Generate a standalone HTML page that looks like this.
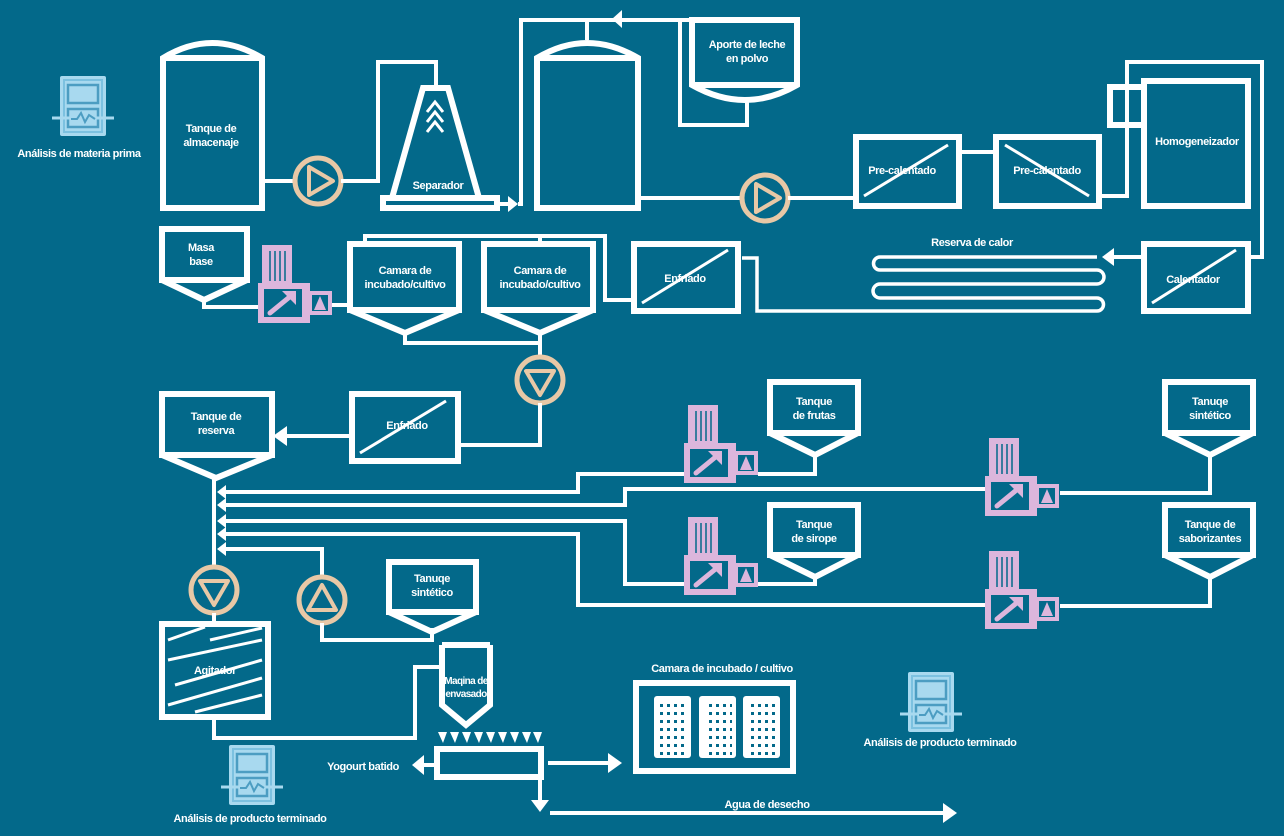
<!DOCTYPE html>
<html><head><meta charset="utf-8"><style>
html,body{margin:0;padding:0;background:#03698a;}
svg{display:block}
text{font-family:"Liberation Sans Narrow","Liberation Sans",sans-serif;font-weight:bold;font-size:11px;fill:#fff;text-anchor:middle;letter-spacing:-0.4px}
.w{fill:none;stroke:#fff;stroke-width:6}
.l{fill:none;stroke:#fff;stroke-width:4}
.p{fill:none;stroke:#e8c8a6;stroke-width:5}
.pt{fill:none;stroke:#e8c8a6;stroke-width:4;stroke-linejoin:round}
.a{fill:#fff}
</style></head><body>
<svg width="1284" height="836" viewBox="0 0 1284 836" xmlns="http://www.w3.org/2000/svg">
<defs>
<g id="valve">
 <rect x="4" y="-38" width="30" height="40" fill="#dcb6dc"/>
 <line x1="12" y1="-32" x2="12" y2="-2" stroke="#03698a" stroke-width="1.5"/>
 <line x1="17" y1="-32" x2="17" y2="-2" stroke="#03698a" stroke-width="1.5"/>
 <line x1="22" y1="-32" x2="22" y2="-2" stroke="#03698a" stroke-width="1.5"/>
 <line x1="27" y1="-32" x2="27" y2="-2" stroke="#03698a" stroke-width="1.5"/>
 <rect x="0" y="0" width="52" height="40" fill="#dcb6dc"/>
 <rect x="6" y="6" width="38" height="28" fill="#03698a"/>
 <line x1="12" y1="30" x2="34" y2="12" stroke="#dcb6dc" stroke-width="5" stroke-linecap="round"/>
 <polygon points="38,8 38,22 24,8" fill="#dcb6dc"/>
 <rect x="50" y="8" width="24" height="24" fill="#dcb6dc"/>
 <rect x="54" y="12" width="16" height="16" fill="#03698a"/>
 <polygon points="62,13 68,27 56,27" fill="#dcb6dc"/>
</g>
<g id="ana">
 <rect x="0" y="0" width="46" height="60" rx="2" fill="#a8d9ef"/>
 <rect x="4" y="4" width="38" height="52" fill="none" stroke="#7cc1e0" stroke-width="2"/>
 <rect x="8" y="9" width="30" height="18" fill="none" stroke="#4c9dc2" stroke-width="2.5"/>
 <rect x="8" y="33" width="30" height="18" fill="none" stroke="#4c9dc2" stroke-width="2.5"/>
 <line x1="-8" y1="42" x2="54" y2="42" stroke="#a8d9ef" stroke-width="3"/>
 <polyline points="11,43 17,43 21,37 25,46 29,39 35,43" fill="none" stroke="#4c9dc2" stroke-width="2"/>
</g>
<g id="rack">
 <rect x="0" y="0" width="37" height="62" rx="3" fill="#fff"/>
</g>
<pattern id="dots" x="660" y="704" width="7" height="8" patternUnits="userSpaceOnUse"><rect x="0" y="0" width="3" height="3" fill="#03698a"/></pattern>
</defs>

<use href="#ana" x="60" y="76"/>
<text x="79" y="157">Análisis de materia prima</text>
<use href="#ana" x="229" y="745"/>
<text x="250" y="822">Análisis de producto terminado</text>
<use href="#ana" x="908" y="672"/>
<text x="940" y="746">Análisis de producto terminado</text>

<path class="w" d="M163,58 Q212,28 262,58 L262,208 L163,208 Z M163,58 L262,58"/>
<text x="211" y="132">Tanque de</text><text x="211" y="146">almacenaje</text>
<line class="l" x1="265" y1="181" x2="295" y2="181"/>
<circle class="p" cx="318" cy="181" r="23"/>
<polygon class="pt" points="309,167 309,195 333,181"/>
<polyline class="l" points="341,181 378,181 378,62 436,62 436,88"/>
<path class="w" d="M423,88 L448,88 L479,198 L392,198 Z"/>
<rect class="w" x="383" y="198" width="114" height="10"/>
<polyline points="427,112 435,102 443,112" fill="none" stroke="#fff" stroke-width="3"/>
<polyline points="427,122 435,112 443,122" fill="none" stroke="#fff" stroke-width="3"/>
<polyline points="427,132 435,122 443,132" fill="none" stroke="#fff" stroke-width="3"/>
<text x="438" y="189">Separador</text>
<line class="l" x1="497" y1="204" x2="510" y2="204"/>
<polygon class="a" points="508,196 518,204 508,212"/>
<polyline class="l" points="518,204 521,204 521,20 690,20 680,20 680,125 747,125 747,100"/>
<polygon class="a" points="612,19 622,10 622,28"/>
<line class="l" x1="587" y1="20" x2="587" y2="40"/>
<path class="w" d="M537,58 Q587,28 638,58 L638,208 L537,208 Z M537,58 L638,58"/>
<path class="w" d="M692,20 L797,20 L797,85 Q745,115 692,85 Z M692,85 L797,85"/>
<text x="747" y="48">Aporte de leche</text><text x="747" y="62">en polvo</text>
<line class="l" x1="641" y1="198" x2="742" y2="198"/>
<circle class="p" cx="765" cy="198" r="23"/>
<polygon class="pt" points="756,184 756,212 780,198"/>
<line class="l" x1="788" y1="198" x2="855" y2="198"/>
<rect class="w" x="856" y="137" width="103" height="69"/>
<line x1="864" y1="196" x2="948" y2="145" stroke="#fff" stroke-width="3"/>
<text x="902" y="174">Pre-calentado</text>
<line class="l" x1="959" y1="152" x2="996" y2="152"/>
<rect class="w" x="996" y="137" width="103" height="69"/>
<line x1="1005" y1="145" x2="1089" y2="196" stroke="#fff" stroke-width="3"/>
<text x="1047" y="174">Pre-calentado</text>
<polyline class="l" points="1100,196 1127,196 1127,62 1262,62 1262,257 1250,257"/>
<rect class="w" x="1144" y="81" width="104" height="125"/>
<rect class="w" x="1110" y="87" width="34" height="38"/>
<text x="1197" y="145">Homogeneizador</text>
<rect class="w" x="1144" y="244" width="104" height="67"/>
<line x1="1152" y1="303" x2="1236" y2="250" stroke="#fff" stroke-width="3"/>
<text x="1193" y="283">Calentador</text>
<line class="l" x1="1144" y1="257" x2="1112" y2="257"/>
<polygon class="a" points="1102,257 1114,248 1114,266"/>
<text x="972" y="246">Reserva de calor</text>
<path d="M1097,257 L880,257 A6.5,6.5 0 0 0 880,270 L1097,270 A7,7 0 0 1 1097,284 L880,284 A7,7 0 0 0 880,298 L1097,298 A6.5,6.5 0 0 1 1097,311 L757,311 L757,258 L742,258" fill="none" stroke="#fff" stroke-width="3.5"/>
<rect class="w" x="634" y="244" width="104" height="67"/>
<line x1="642" y1="303" x2="728" y2="250" stroke="#fff" stroke-width="3"/>
<text x="685" y="282">Enfriado</text>
<polyline class="l" points="634,300 605,300 605,236 365,236 365,244"/>
<line class="l" x1="540" y1="236" x2="540" y2="244"/>
<rect class="w" x="162" y="229" width="85" height="51"/>
<polyline class="w" points="162,280 204,300 247,280"/>
<text x="201" y="251">Masa</text><text x="201" y="265">base</text>
<polyline class="l" points="204,300 204,307 260,307"/>
<use href="#valve" x="258" y="283"/>
<line class="l" x1="332" y1="305" x2="350" y2="305"/>
<rect class="w" x="350" y="244" width="109" height="66"/>
<polyline class="w" points="350,310 405,333 459,310"/>
<text x="405" y="274">Camara de</text><text x="405" y="288">incubado/cultivo</text>
<rect class="w" x="484" y="244" width="109" height="66"/>
<polyline class="w" points="484,310 540,333 593,310"/>
<text x="540" y="274">Camara de</text><text x="540" y="288">incubado/cultivo</text>
<polyline class="l" points="405,333 405,343 540,343"/>
<line class="l" x1="540" y1="333" x2="540" y2="357"/>
<circle class="p" cx="540" cy="380" r="23"/>
<polygon class="pt" points="526,371 554,371 540,395"/>
<polyline class="l" points="540,403 540,445 460,445"/>
<rect class="w" x="352" y="394" width="106" height="67"/>
<line x1="360" y1="453" x2="446" y2="401" stroke="#fff" stroke-width="3"/>
<text x="407" y="429">Enfriado</text>
<line class="l" x1="352" y1="436" x2="285" y2="436"/>
<polygon class="a" points="273,436 287,426 287,446"/>
<rect class="w" x="162" y="394" width="110" height="61"/>
<polyline class="w" points="162,455 216,478 272,455"/>
<text x="216" y="420">Tanque de</text><text x="216" y="434">reserva</text>
<line class="l" x1="214" y1="478" x2="214" y2="567"/>
<g>
<polygon class="a" points="217,492 226,485 226,499"/>
<polygon class="a" points="217,505 226,498 226,512"/>
<polygon class="a" points="217,521 226,514 226,528"/>
<polygon class="a" points="217,534 226,527 226,541"/>
<polygon class="a" points="217,549 226,542 226,556"/>
</g>
<polyline class="l" points="225,492 578,492 578,474 686,474"/>
<polyline class="l" points="758,474 815,474 815,455"/>
<polyline class="l" points="225,505 625,505 625,489 986,489"/>
<polyline class="l" points="1060,493 1210,493 1210,455"/>
<polyline class="l" points="225,521 625,521 625,584 686,584"/>
<polyline class="l" points="758,584 815,584 815,575"/>
<polyline class="l" points="225,534 578,534 578,605 986,605"/>
<polyline class="l" points="1060,606 1210,606 1210,575"/>
<polyline class="l" points="225,549 322,549 322,577"/>
<circle class="p" cx="322" cy="600" r="23"/>
<polygon class="pt" points="322,585 336,610 308,610"/>
<polyline class="l" points="322,623 322,640 432,640 432,628"/>
<use href="#valve" x="684" y="443"/>
<use href="#valve" x="985" y="476"/>
<use href="#valve" x="684" y="555"/>
<use href="#valve" x="985" y="589"/>
<rect class="w" x="770" y="382" width="88" height="51"/>
<polyline class="w" points="770,433 815,455 858,433"/>
<text x="814" y="405">Tanque</text><text x="814" y="419">de frutas</text>
<rect class="w" x="770" y="505" width="88" height="50"/>
<polyline class="w" points="770,555 815,577 858,555"/>
<text x="814" y="528">Tanque</text><text x="814" y="542">de sirope</text>
<rect class="w" x="1165" y="382" width="88" height="51"/>
<polyline class="w" points="1165,433 1210,455 1253,433"/>
<text x="1210" y="405">Tanuqe</text><text x="1210" y="419">sintético</text>
<rect class="w" x="1165" y="505" width="88" height="50"/>
<polyline class="w" points="1165,555 1210,577 1253,555"/>
<text x="1210" y="528">Tanque de</text><text x="1210" y="542">saborizantes</text>
<circle class="p" cx="214" cy="590" r="23"/>
<polygon class="pt" points="200,581 228,581 214,605"/>
<line class="l" x1="214" y1="613" x2="214" y2="624"/>
<rect class="w" x="162" y="624" width="106" height="93"/>
<g stroke="#fff" stroke-width="3">
<line x1="168" y1="640" x2="205" y2="627"/><line x1="210" y1="640" x2="262" y2="628"/>
<line x1="168" y1="660" x2="262" y2="640"/>
<line x1="175" y1="685" x2="262" y2="660"/>
<line x1="168" y1="705" x2="262" y2="678"/>
<line x1="195" y1="712" x2="262" y2="695"/>
</g>
<text x="215" y="674">Agitador</text>
<polyline class="l" points="214,717 214,738 415,738 415,667 442,667"/>
<rect class="w" x="389" y="562" width="87" height="50"/>
<polyline class="w" points="389,612 432,632 476,612"/>
<text x="432" y="582">Tanuqe</text><text x="432" y="596">sintético</text>
<polyline class="w" points="442,645 442,705 466,725 490,705 490,645"/>
<line class="w" x1="442" y1="645" x2="490" y2="645"/>
<text x="466" y="684" style="font-size:10px;letter-spacing:-0.6px">Maqina de</text><text x="466" y="697" style="font-size:10px;letter-spacing:-0.6px">envasado</text>
<g class="a">
<polygon points="438,732 447,732 443,743"/><polygon points="450,732 459,732 455,743"/>
<polygon points="462,732 471,732 467,743"/><polygon points="474,732 483,732 479,743"/>
<polygon points="486,732 495,732 491,743"/><polygon points="498,732 507,732 503,743"/>
<polygon points="510,732 519,732 515,743"/><polygon points="522,732 531,732 527,743"/>
<polygon points="533,732 542,732 538,743"/>
</g>
<rect class="w" x="437" y="749" width="104" height="28"/>
<line class="l" x1="434" y1="765" x2="422" y2="765"/>
<polygon class="a" points="412,765 424,755 424,775"/>
<text x="363" y="770">Yogourt batido</text>
<line class="l" x1="548" y1="763" x2="610" y2="763"/>
<polygon class="a" points="622,763 608,753 608,773"/>
<line class="l" x1="540" y1="778" x2="540" y2="800"/>
<polygon class="a" points="531,800 549,800 540,812"/>
<line class="l" x1="550" y1="813" x2="945" y2="813"/>
<polygon class="a" points="957,813 943,803 943,823"/>
<text x="767" y="808">Agua de desecho</text>
<text x="722" y="672">Camara de incubado / cultivo</text>
<rect class="w" x="636" y="683" width="157" height="88"/>
<use href="#rack" x="654" y="696"/>
<use href="#rack" x="699" y="696"/>
<use href="#rack" x="743" y="696"/>
<rect x="660" y="704" width="27" height="54" fill="url(#dots)"/>
<rect x="705" y="704" width="27" height="54" fill="url(#dots)"/>
<rect x="749" y="704" width="27" height="54" fill="url(#dots)"/>
</svg>
</body></html>
